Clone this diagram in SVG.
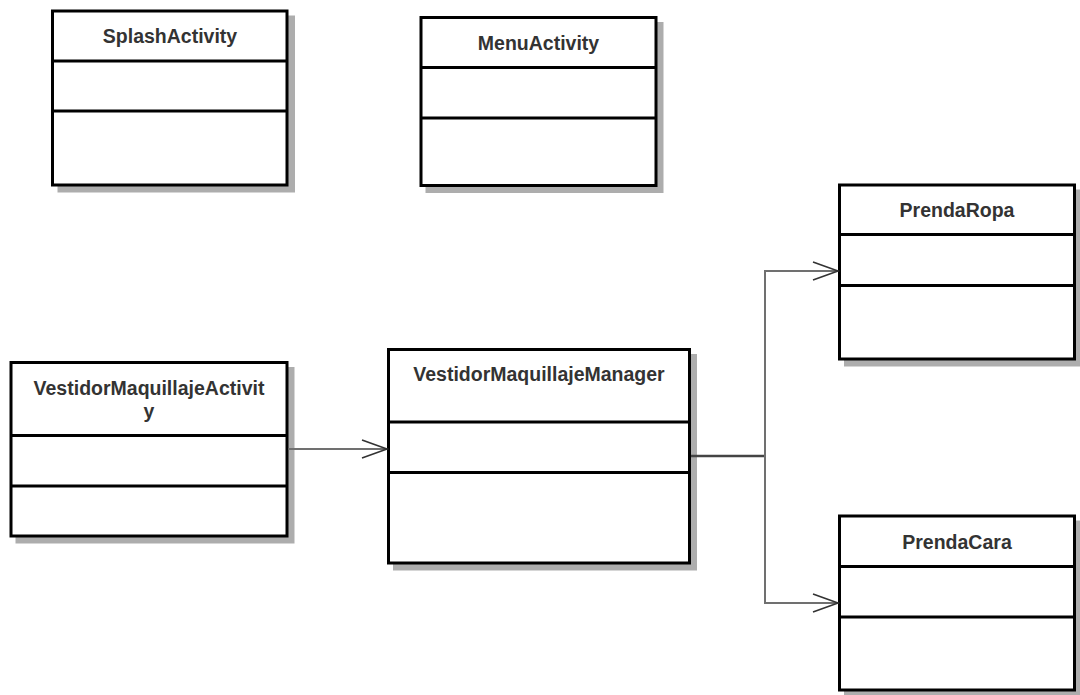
<svg xmlns="http://www.w3.org/2000/svg" width="1080" height="695" viewBox="0 0 1080 695">
<style>
.shadow{fill:#adadad;stroke:#adadad;stroke-width:3}
.box{fill:#fff;stroke:#000;stroke-width:3}
.div{stroke:#000;stroke-width:3}
.title{font-family:"Liberation Sans",Arial,sans-serif;font-weight:bold;font-size:19.5px;fill:#333;text-anchor:middle}
.conn{fill:none;stroke:#707070;stroke-width:2}
</style>
<defs>
<marker id="open" markerUnits="userSpaceOnUse" markerWidth="30" markerHeight="22" refX="25" refY="10" orient="auto" overflow="visible">
<path d="M0,1 L25,10 L0,19" fill="none" stroke="#333" stroke-width="1.6"/>
</marker>
</defs>
<rect width="1080" height="695" fill="#fff"/>
<g id="SplashActivity">
<rect class="shadow" x="59" y="17" width="234.5" height="174"/>
<rect class="box" x="52.5" y="11" width="234.5" height="174"/>
<line class="div" x1="52.5" y1="61" x2="287" y2="61"/>
<line class="div" x1="52.5" y1="111" x2="287" y2="111"/>
<text class="title" x="170" y="43">SplashActivity</text>
</g>
<g id="MenuActivity">
<rect class="shadow" x="427" y="23.5" width="235" height="168"/>
<rect class="box" x="421" y="17.5" width="235" height="168"/>
<line class="div" x1="421" y1="67.5" x2="656" y2="67.5"/>
<line class="div" x1="421" y1="118" x2="656" y2="118"/>
<text class="title" x="538.5" y="50">MenuActivity</text>
</g>
<g id="VestidorMaquillajeActivity">
<rect class="shadow" x="17" y="368.5" width="276" height="173.5"/>
<rect class="box" x="11" y="362.5" width="276" height="173.5"/>
<line class="div" x1="11" y1="435.5" x2="287" y2="435.5"/>
<line class="div" x1="11" y1="486" x2="287" y2="486"/>
<text class="title" x="149" y="395">VestidorMaquillajeActivit</text>
<text class="title" x="149" y="418">y</text>
</g>
<g id="VestidorMaquillajeManager">
<rect class="shadow" x="394.5" y="355.5" width="301" height="213.5"/>
<rect class="box" x="388.5" y="349.5" width="301" height="213.5"/>
<line class="div" x1="388.5" y1="422" x2="689.5" y2="422"/>
<line class="div" x1="388.5" y1="472.5" x2="689.5" y2="472.5"/>
<text class="title" x="539" y="381">VestidorMaquillajeManager</text>
</g>
<g id="PrendaRopa">
<rect class="shadow" x="845.5" y="191" width="235" height="174"/>
<rect class="box" x="839.5" y="185" width="235" height="174"/>
<line class="div" x1="839.5" y1="234.5" x2="1074.5" y2="234.5"/>
<line class="div" x1="839.5" y1="285.5" x2="1074.5" y2="285.5"/>
<text class="title" x="957" y="217">PrendaRopa</text>
</g>
<g id="PrendaCara">
<rect class="shadow" x="845.5" y="522" width="235" height="174"/>
<rect class="box" x="839.5" y="516" width="235" height="174"/>
<line class="div" x1="839.5" y1="566.5" x2="1074.5" y2="566.5"/>
<line class="div" x1="839.5" y1="617" x2="1074.5" y2="617"/>
<text class="title" x="957" y="549">PrendaCara</text>
</g>
<g id="connectors">
<path class="conn" d="M288.5,449 H387" marker-end="url(#open)"/>
<path class="conn" d="M691,456 H765" style="stroke:#444;stroke-width:2.5"/>
<path class="conn" d="M765,456 V271 H838" marker-end="url(#open)"/>
<path class="conn" d="M765,456 V603 H838" marker-end="url(#open)"/>
</g>
</svg>
